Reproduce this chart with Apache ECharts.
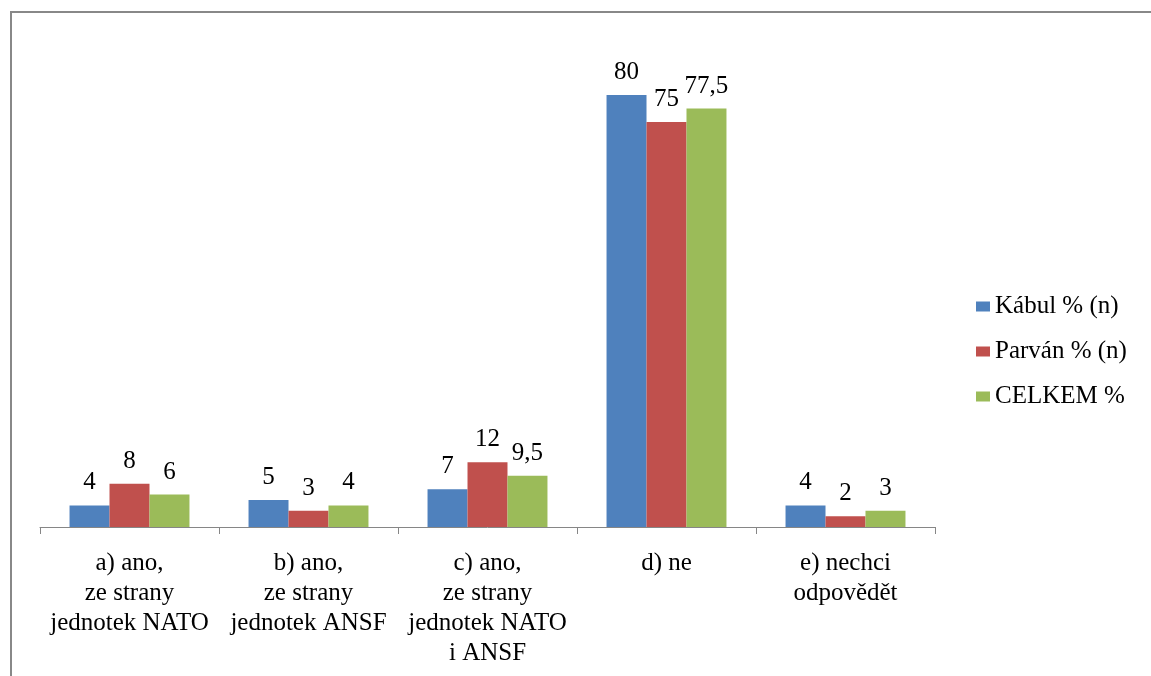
<!DOCTYPE html>
<html>
<head>
<meta charset="utf-8">
<script src="https://cdn.jsdelivr.net/npm/echarts@6/dist/echarts.min.js"></script>
<style>
html,body{margin:0;padding:0;background:#fff;}
#main{width:1151px;height:676px;}
</style>
</head>
<body>
<div id="main"></div>
<script>
const categories = [
  "a) ano,\nze strany\njednotek NATO",
  "b) ano,\nze strany\njednotek ANSF",
  "c) ano,\nze strany\njednotek NATO\ni ANSF",
  "d) ne",
  "e) nechci\nodpovědět"
];
const seriesNames = ["Kábul % (n)", "Parván % (n)", "CELKEM %"];
const kabul = [4, 5, 7, 80, 4];
const parvan = [8, 3, 12, 75, 2];
const celkem = [6, 4, 9.5, 77.5, 3];
const colors = ["#4F81BD", "#C0504D", "#9BBB59"];

const font = "'Liberation Serif', 'Times New Roman', serif";
const chart = echarts.init(document.getElementById('main'), null, {renderer: 'canvas'});

function mk(name, data, color) {
  return {
    name: name,
    type: 'bar',
    data: data,
    barGap: '0%',
    barCategoryGap: '33%',
    itemStyle: {color: color},
    label: {
      show: true,
      position: 'top',
      distance: 10,
      fontFamily: font,
      fontSize: 25,
      color: '#000',
      formatter: p => String(p.value).replace('.', ',')
    }
  };
}

chart.setOption({
  animation: false,
  color: colors,
  graphic: [{
    type: 'rect',
    shape: {x: 11, y: 12, width: 1300, height: 1000},
    style: {fill: 'none', stroke: '#888888', lineWidth: 2},
    silent: true
  }],
  grid: {left: 40, right: 216, top: 41, bottom: 149},
  legend: {
    orient: 'vertical',
    left: 971,
    top: 289,
    itemWidth: 14,
    itemHeight: 10,
    itemGap: 20,
    icon: 'rect',
    textStyle: {fontFamily: font, fontSize: 25, lineHeight: 25, color: '#000', padding: [0,0,0,0]},
    data: seriesNames
  },
  xAxis: {
    type: 'category',
    data: categories,
    axisLine: {lineStyle: {color: '#868686', width: 1}},
    axisTick: {show: true, length: 7, lineStyle: {color: '#868686'}},
    axisLabel: {
      fontFamily: font,
      fontSize: 25,
      color: '#000',
      lineHeight: 30,
      margin: 21,
      interval: 0
    }
  },
  yAxis: {
    type: 'value',
    min: 0,
    max: 90,
    show: false,
    splitLine: {show: false}
  },
  series: [
    mk(seriesNames[0], kabul, colors[0]),
    mk(seriesNames[1], parvan, colors[1]),
    mk(seriesNames[2], celkem, colors[2])
  ]
});
</script>
</body>
</html>
